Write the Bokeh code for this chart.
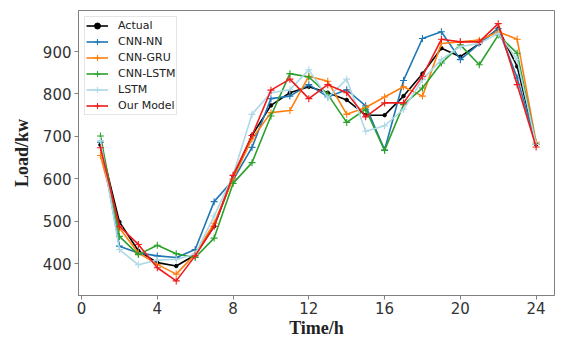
from bokeh.plotting import figure
from bokeh.models import Range1d, FixedTicker
from bokeh.embed import file_html
from bokeh.resources import INLINE

hours = list(range(1, 25))
x_ticks = [0, 4, 8, 12, 16, 20, 24]
y_ticks = [400, 500, 600, 700, 800, 900]

actual   = [680, 498, 430, 402, 394, 420, 488, 604, 702, 773, 803, 817, 803, 786, 750, 750, 795, 848, 908, 888, 919, 954, 865, 681]
cnn_nn   = [686, 441, 425, 418, 414, 433, 546, 597, 674, 789, 795, 822, 793, 810, 772, 668, 832, 931, 947, 881, 919, 954, 838, 681]
cnn_gru  = [655, 484, 425, 398, 375, 422, 495, 600, 694, 756, 761, 842, 830, 752, 768, 793, 817, 795, 919, 923, 927, 947, 929, 686]
cnn_lstm = [701, 464, 421, 443, 423, 414, 460, 589, 638, 748, 848, 840, 799, 733, 764, 667, 775, 814, 873, 916, 869, 939, 896, 681]
lstm     = [690, 433, 397, 408, 410, 422, 512, 608, 752, 803, 810, 857, 791, 835, 712, 725, 764, 834, 881, 912, 919, 943, 881, 681]
ours     = [673, 488, 445, 390, 359, 418, 488, 608, 702, 809, 835, 789, 822, 803, 746, 779, 779, 842, 929, 923, 923, 966, 822, 675]

p = figure(width=556, height=340, output_backend="svg", toolbar_location=None,
           x_range=Range1d(-0.16, 24.97), y_range=Range1d(324.5, 997),
           min_border_left=78, min_border_right=2, min_border_top=10, min_border_bottom=42)

p.xgrid.visible = False
p.ygrid.visible = False
p.outline_line_color = "#808080"
p.outline_line_width = 1

lw = 1.6
p.line(hours, actual, line_color="black", line_width=lw, legend_label="Actual")
p.scatter(hours, actual, marker="circle", size=3.5, color="black", legend_label="Actual")

series = [
    (cnn_nn, "#1f77b4", "CNN-NN"),
    (cnn_gru, "#ff7f0e", "CNN-GRU"),
    (cnn_lstm, "#2ca02c", "CNN-LSTM"),
    (lstm, "#add8e6", "LSTM"),
    (ours, "#ee1c1c", "Our Model"),
]
for ys, col, name in series:
    p.line(hours, ys, line_color=col, line_width=lw, legend_label=name)
    p.scatter(hours, ys, marker="cross", size=7, line_color=col, line_width=1.1, legend_label=name)

for ax in (p.xaxis, p.yaxis):
    ax.axis_line_color = "#808080"
    ax.major_tick_line_color = "#808080"
    ax.minor_tick_line_color = None
    ax.major_tick_out = 4
    ax.major_tick_in = 0
    ax.major_label_text_font = "DejaVu Sans"
    ax.major_label_text_font_size = "15px"
    ax.major_label_text_color = "#333333"
    ax.axis_label_text_font = "Liberation Serif"
    ax.axis_label_text_font_style = "bold"
    ax.axis_label_text_font_size = "18px"
    ax.axis_label_text_color = "#222222"

p.xaxis.ticker = FixedTicker(ticks=x_ticks)
p.yaxis.ticker = FixedTicker(ticks=y_ticks)
p.xaxis.axis_label = "Time/h"
p.yaxis.axis_label = "Load/kw"
p.xaxis.major_label_standoff = 2
p.xaxis.axis_label_standoff = 1
p.yaxis.major_label_standoff = 3
p.yaxis.axis_label_standoff = 8

lg = p.legend[0]
lg.location = "top_left"
lg.margin = 6
lg.padding = 1
lg.spacing = 1
lg.label_height = 15
lg.glyph_height = 15
lg.glyph_width = 22
lg.label_standoff = 10
lg.label_text_font = "DejaVu Sans"
lg.label_text_font_size = "11px"
lg.label_text_color = "#222222"
lg.border_line_color = "#cccccc"
lg.background_fill_alpha = 0.85

open("out.html", "w").write(file_html(p, INLINE))
